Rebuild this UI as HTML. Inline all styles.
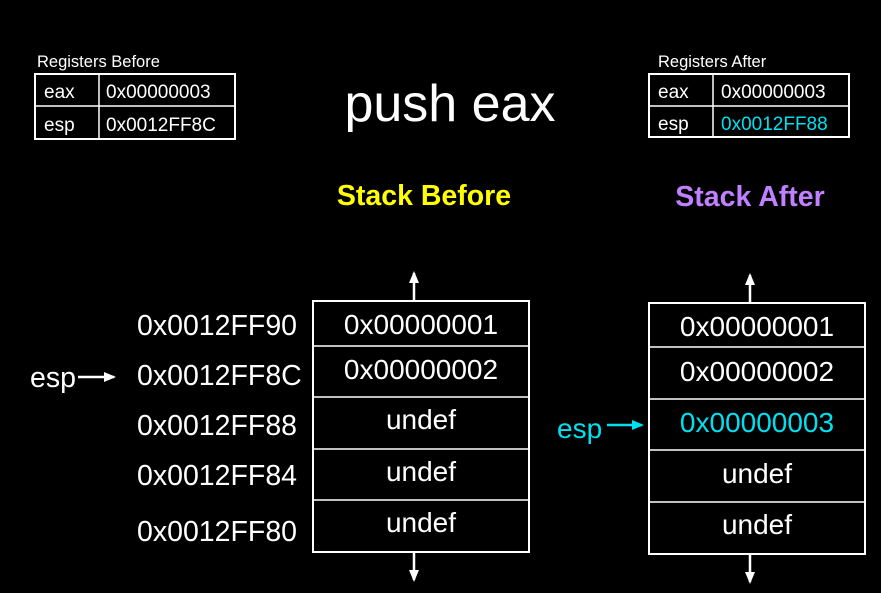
<!DOCTYPE html>
<html><head><meta charset="utf-8"><style>
html,body{margin:0;padding:0;background:#000;}
svg{display:block;}
text{font-family:"Liberation Sans",Arial,sans-serif;}
</style></head><body>
<svg width="881" height="593" viewBox="0 0 881 593" xmlns="http://www.w3.org/2000/svg">
<rect width="881" height="593" fill="#000"/>
<defs>
<marker id="ah" markerWidth="12" markerHeight="10" refX="10" refY="5" orient="auto" markerUnits="userSpaceOnUse"><path d="M0,0 L12,5 L0,10 z" fill="#fff"/></marker>
<marker id="ahc" markerWidth="12" markerHeight="10" refX="10" refY="5" orient="auto" markerUnits="userSpaceOnUse"><path d="M0,0 L12,5 L0,10 z" fill="#00e0f0"/></marker>
</defs>
<!-- Registers Before -->
<text x="37" y="67" fill="#fff" font-size="16.5">Registers Before</text>
<rect x="35" y="74" width="200" height="65" fill="none" stroke="#fff" stroke-width="2"/>
<line x1="35" y1="106" x2="235" y2="106" stroke="#fff" stroke-width="1.5"/>
<line x1="99" y1="74" x2="99" y2="139" stroke="#fff" stroke-width="1.5"/>
<text x="44" y="98" fill="#fff" font-size="19">eax</text>
<text x="106" y="98" fill="#fff" font-size="19">0x00000003</text>
<text x="44" y="131" fill="#fff" font-size="19">esp</text>
<text x="106" y="131" fill="#fff" font-size="19">0x0012FF8C</text>
<!-- Registers After -->
<text x="658" y="67" fill="#fff" font-size="16.5">Registers After</text>
<rect x="649" y="74" width="200" height="63" fill="none" stroke="#fff" stroke-width="2"/>
<line x1="649" y1="106" x2="849" y2="106" stroke="#fff" stroke-width="1.5"/>
<line x1="713" y1="74" x2="713" y2="137" stroke="#fff" stroke-width="1.5"/>
<text x="658" y="98" fill="#fff" font-size="19">eax</text>
<text x="721" y="98" fill="#fff" font-size="19">0x00000003</text>
<text x="658" y="130" fill="#fff" font-size="19">esp</text>
<text x="721" y="130" fill="#00e0f0" font-size="19">0x0012FF88</text>
<!-- title -->
<text x="450" y="121" fill="#fff" font-size="52" text-anchor="middle">push eax</text>
<text x="424" y="205" fill="#ffff00" font-size="28.5" font-weight="bold" text-anchor="middle">Stack Before</text>
<text x="750" y="206" fill="#c080ff" font-size="28.5" font-weight="bold" text-anchor="middle">Stack After</text>
<!-- addresses -->
<g fill="#fff" font-size="28.5">
<text x="137" y="335">0x0012FF90</text>
<text x="137" y="385">0x0012FF8C</text>
<text x="137" y="435">0x0012FF88</text>
<text x="137" y="485">0x0012FF84</text>
<text x="137" y="541">0x0012FF80</text>
<text x="30" y="387">esp</text>
</g>
<line x1="78" y1="377" x2="114" y2="377" stroke="#fff" stroke-width="2.5" marker-end="url(#ah)"/>
<!-- left stack -->
<rect x="313" y="301" width="216" height="251" fill="none" stroke="#fff" stroke-width="2"/>
<g stroke="#fff" stroke-width="1.5">
<line x1="313" y1="346" x2="529" y2="346"/><line x1="313" y1="397" x2="529" y2="397"/>
<line x1="313" y1="449" x2="529" y2="449"/><line x1="313" y1="500" x2="529" y2="500"/>
</g>
<line x1="414" y1="301" x2="414" y2="273" stroke="#fff" stroke-width="2.5" marker-end="url(#ah)"/>
<line x1="414" y1="552" x2="414" y2="580" stroke="#fff" stroke-width="2.5" marker-end="url(#ah)"/>
<g fill="#fff" font-size="28" text-anchor="middle">
<text x="421" y="334">0x00000001</text>
<text x="421" y="379">0x00000002</text>
<text x="421" y="429">undef</text>
<text x="421" y="481">undef</text>
<text x="421" y="532">undef</text>
</g>
<!-- right stack -->
<rect x="649" y="303" width="216" height="251" fill="none" stroke="#fff" stroke-width="2"/>
<g stroke="#fff" stroke-width="1.5">
<line x1="649" y1="347" x2="865" y2="347"/><line x1="649" y1="399" x2="865" y2="399"/>
<line x1="649" y1="450" x2="865" y2="450"/><line x1="649" y1="502" x2="865" y2="502"/>
</g>
<line x1="750" y1="303" x2="750" y2="275" stroke="#fff" stroke-width="2.5" marker-end="url(#ah)"/>
<line x1="750" y1="554" x2="750" y2="582" stroke="#fff" stroke-width="2.5" marker-end="url(#ah)"/>
<g fill="#fff" font-size="28" text-anchor="middle">
<text x="757" y="336">0x00000001</text>
<text x="757" y="381">0x00000002</text>
<text x="757" y="432" fill="#00e0f0">0x00000003</text>
<text x="757" y="483">undef</text>
<text x="757" y="534">undef</text>
</g>
<text x="557" y="438" fill="#00e0f0" font-size="28">esp</text>
<line x1="607" y1="425" x2="642" y2="425" stroke="#00e0f0" stroke-width="2.5" marker-end="url(#ahc)"/>
</svg>
</body></html>
